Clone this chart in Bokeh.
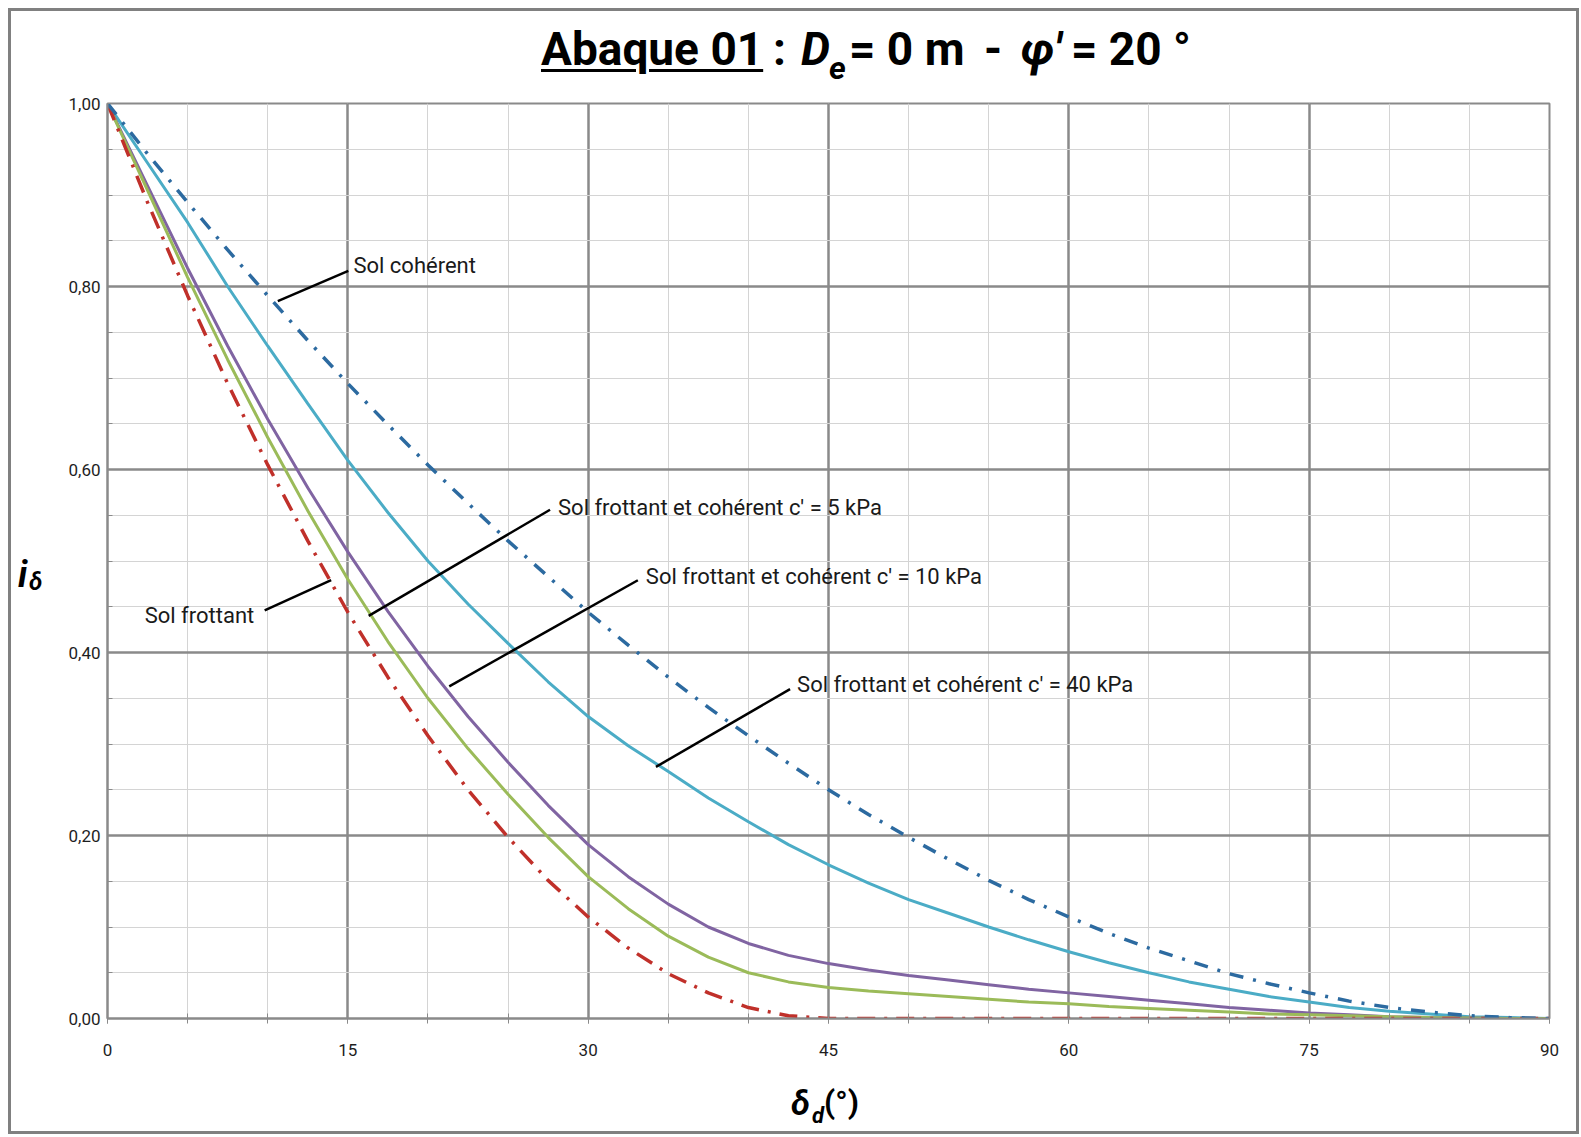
from bokeh.plotting import figure
from bokeh.models import Range1d, FixedTicker, Label, ColumnDataSource, Div
from bokeh.layouts import column, row
from bokeh.embed import file_html
from bokeh.resources import INLINE

# ---------------- data ----------------
delta_d = [0, 2.5, 5, 7.5, 10, 12.5, 15, 17.5, 20, 22.5, 25, 27.5, 30, 32.5, 35, 37.5,
           40, 42.5, 45, 47.5, 50, 52.5, 55, 57.5, 60, 62.5, 65, 67.5, 70, 72.5, 75,
           77.5, 80, 82.5, 85, 87.5, 90]
i_sol_coherent = [1.00, 0.945, 0.892, 0.840, 0.790, 0.741, 0.694, 0.649, 0.605, 0.563,
                  0.522, 0.483, 0.444, 0.408, 0.373, 0.340, 0.309, 0.279, 0.250, 0.223,
                  0.198, 0.174, 0.151, 0.130, 0.111, 0.093, 0.077, 0.063, 0.049, 0.038,
                  0.028, 0.019, 0.012, 0.007, 0.003, 0.001, 0.0]
i_sol_frottant = [1.00, 0.892, 0.790, 0.694, 0.605, 0.522, 0.444, 0.373, 0.309, 0.250,
                  0.198, 0.151, 0.111, 0.077, 0.049, 0.028, 0.012, 0.003, 0.0, 0.0,
                  0.0, 0.0, 0.0, 0.0, 0.0, 0.0, 0.0, 0.0, 0.0, 0.0,
                  0.0, 0.0, 0.0, 0.0, 0.0, 0.0, 0.0]
i_c5 = [1.00, 0.905, 0.81, 0.72, 0.635, 0.555, 0.48, 0.412, 0.35, 0.295,
        0.245, 0.198, 0.155, 0.12, 0.09, 0.067, 0.05, 0.04, 0.034, 0.030,
        0.027, 0.024, 0.021, 0.018, 0.016, 0.013, 0.011, 0.009, 0.007, 0.005,
        0.004, 0.003, 0.002, 0.001, 0.0005, 0.0, 0.0]
i_c10 = [1.00, 0.91, 0.82, 0.735, 0.655, 0.58, 0.51, 0.445, 0.385, 0.33,
         0.28, 0.233, 0.19, 0.155, 0.125, 0.10, 0.082, 0.069, 0.06, 0.053,
         0.047, 0.042, 0.037, 0.032, 0.028, 0.024, 0.02, 0.016, 0.012, 0.009,
         0.006, 0.004, 0.002, 0.001, 0.0005, 0.0, 0.0]
i_c40 = [1.00, 0.935, 0.87, 0.80, 0.735, 0.672, 0.61, 0.553, 0.50, 0.453,
         0.41, 0.368, 0.33, 0.298, 0.27, 0.241, 0.215, 0.19, 0.168, 0.148,
         0.13, 0.115, 0.10, 0.086, 0.073, 0.061, 0.05, 0.04, 0.032, 0.024,
         0.018, 0.012, 0.008, 0.005, 0.002, 0.001, 0.0]

x_ticks = [0, 15, 30, 45, 60, 75, 90]
x_tick_labels = ["0", "15", "30", "45", "60", "75", "90"]
x_minor = list(range(0, 91, 5))
y_ticks = [0.0, 0.2, 0.4, 0.6, 0.8, 1.0]
y_tick_labels = ["0,00", "0,20", "0,40", "0,60", "0,80", "1,00"]
y_minor = [k * 0.05 for k in range(21)]

ann_text = ["Sol cohérent", "Sol frottant",
            "Sol frottant et cohérent c′ = 5 kPa",
            "Sol frottant et cohérent c′ = 10 kPa",
            "Sol frottant et cohérent c′ = 40 kPa"]

FONT = "Roboto"

p = figure(width=1528, height=985, output_backend="svg", toolbar_location=None,
           x_range=Range1d(0, 90), y_range=Range1d(0, 1),
           min_border_left=59, min_border_right=27, min_border_top=10, min_border_bottom=60)
p.background_fill_color = "white"
p.border_fill_color = "white"
p.outline_line_color = "#8a8a8a"
p.outline_line_width = 2

p.xaxis.ticker = FixedTicker(ticks=x_ticks, minor_ticks=x_minor)
p.yaxis.ticker = FixedTicker(ticks=y_ticks, minor_ticks=y_minor)
p.xaxis.major_label_overrides = {t: l for t, l in zip(x_ticks, x_tick_labels)}
p.yaxis.major_label_overrides = {t: l for t, l in zip(y_ticks, y_tick_labels)}
for ax in (p.xaxis, p.yaxis):
    ax.axis_line_color = "#8a8a8a"
    ax.axis_line_width = 2
    ax.major_tick_line_color = "#8a8a8a"
    ax.minor_tick_line_color = "#8a8a8a"
    ax.major_tick_in = 5
    ax.minor_tick_in = 5
    ax.major_label_text_font = FONT
    ax.major_label_text_font_size = "17px"
    ax.major_label_text_color = "#1e1e1e"
p.xaxis.major_tick_out = 5
p.xaxis.minor_tick_out = 5
p.yaxis.major_tick_out = 0
p.yaxis.minor_tick_out = 0
p.xaxis.major_label_standoff = 20
p.yaxis.major_label_standoff = 7

p.xgrid.ticker = FixedTicker(ticks=x_ticks, minor_ticks=x_minor)
p.ygrid.ticker = FixedTicker(ticks=y_ticks, minor_ticks=y_minor)
for g in (p.xgrid, p.ygrid):
    g.grid_line_color = "#8a8a8a"
    g.grid_line_width = 2.5
    g.minor_grid_line_color = "#d4d4d4"
    g.minor_grid_line_width = 1

src = ColumnDataSource(dict(x=delta_d, coh=i_sol_coherent, frot=i_sol_frottant,
                            c5=i_c5, c10=i_c10, c40=i_c40))

p.line("x", "c40", source=src, line_color="#4bacc6", line_width=3)
p.line("x", "c10", source=src, line_color="#8064a2", line_width=3)
p.line("x", "c5", source=src, line_color="#9bbb59", line_width=3)
p.line("x", "frot", source=src, line_color="#c0302a", line_width=3.5, line_dash="18 9 3 9")
p.line("x", "coh", source=src, line_color="#2c6aa0", line_width=3.5, line_dash="14 10 3 10")

# leader lines for the annotations
lead_x0 = [10.63, 9.81, 16.30, 21.33, 34.23]
lead_y0 = [0.784, 0.446, 0.440, 0.363, 0.275]
lead_x1 = [15.03, 13.96, 27.62, 33.10, 42.60]
lead_y1 = [0.817, 0.479, 0.556, 0.479, 0.360]
p.segment(lead_x0, lead_y0, lead_x1, lead_y1, line_color="black", line_width=2.5)

ann_x = [15.35, 2.32, 28.12, 33.60, 43.04]
ann_y = [0.823, 0.440, 0.559, 0.483, 0.365]
for t, x, y in zip(ann_text, ann_x, ann_y):
    p.add_layout(Label(x=x, y=y, text=t, text_font=FONT, text_font_size="22px",
                       text_color="#1a1a1a", text_baseline="middle", text_align="left"))


# ---------------- titles as HTML (sub/superscripts, italics, underline) -------------
def span(left, top, size, txt, style="font-weight:bold;"):
    return (f'<span style="position:absolute;left:{left}px;top:{top}px;'
            f'font-family:Roboto,sans-serif;font-size:{size}px;line-height:1;'
            f'white-space:nowrap;color:black;{style}">{txt}</span>')


def box(w, h, inner):
    return f'<div style="position:relative;width:{w}px;height:{h}px;overflow:visible;">{inner}</div>'


BI = "font-weight:bold;font-style:italic;"
title_html = box(1565, 82,
                 span(530, 15, 46, "Abaque 01",
                      "font-weight:bold;text-decoration:underline;"
                      "text-decoration-thickness:3px;text-underline-offset:4px;")
                 + span(762, 15, 46, ":")
                 + span(790, 15, 46, "D", BI)
                 + span(818, 41, 32, "e", BI)
                 + span(838, 15, 46, "= 0 m")
                 + span(973, 15, 46, "-")
                 + span(1010, 15, 46, "φ′", BI)
                 + span(1060, 15, 46, "= 20 °"))
title_div = Div(text=title_html, width=1565, height=82, margin=0)

ylab_html = box(37, 985, span(7, 464, 36, "i", BI) + span(18, 477, 24, "δ", BI))
ylab_div = Div(text=ylab_html, width=37, height=985, margin=0)

xlab_html = box(1565, 53, span(780, 8, 34, "δ", BI) + span(801, 27, 22, "d", BI)
                + span(813, 8, 32, "(°)"))
xlab_div = Div(text=xlab_html, width=1565, height=53, margin=0)

layout = column(title_div, row(ylab_div, p, spacing=0), xlab_div, spacing=0)
layout.margin = (8, 0, 0, 8)
layout.styles = {"border": "3px solid #808080", "background-color": "white"}

open("out.html", "w").write(file_html(layout, INLINE))
